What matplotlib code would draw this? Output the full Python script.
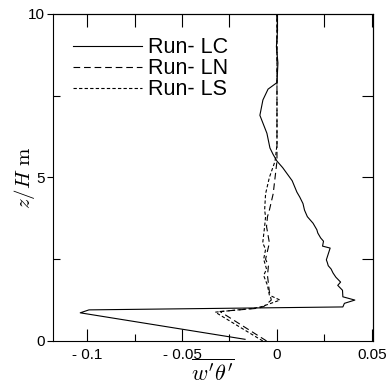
import numpy as np
import matplotlib
matplotlib.use("Agg")
import matplotlib.pyplot as plt
from matplotlib import ticker

plt.rcParams["font.family"] = ["Liberation Sans", "DejaVu Sans"]
plt.rcParams["mathtext.fontset"] = "cm"

# Run-LC (solid)
lc_x = [-0.0168, -0.1036, -0.099, 0.0347, 0.0355, 0.041, 0.0347, 0.0345, 0.032, 0.0335,
        0.031, 0.0295, 0.0285, 0.027, 0.0265, 0.026, 0.028, 0.024, 0.0245, 0.023, 0.0215,
        0.021, 0.019, 0.0175, 0.016, 0.0145, 0.0137, 0.012, 0.0105, 0.008, 0.003, 0.0,
        -0.002, -0.0037, -0.0053, -0.009, -0.0074, -0.0047, 0.0, 0.0005, -0.0003, 0.0003, 0.0]
lc_z = [0.05, 0.86, 0.95, 1.04, 1.15, 1.25, 1.35, 1.55, 1.7, 1.8,
        1.95, 2.08, 2.2, 2.3, 2.4, 2.48, 2.84, 2.9, 3.05, 3.15, 3.3,
        3.4, 3.6, 3.7, 3.8, 4.0, 4.2, 4.4, 4.55, 4.9, 5.3, 5.5,
        5.7, 5.9, 6.35, 6.9, 7.37, 7.7, 7.9, 8.5, 9.0, 9.5, 10.0]

# Run-LN (long dashes)
ln_x = [-0.0055, -0.030, -0.010, -0.007, -0.003, -0.004, -0.005, -0.0045, -0.006,
        -0.004, -0.0055, -0.005, -0.004, -0.002, -0.001, 0.0, 0.0, 0.0]
ln_z = [0.0, 0.9, 1.0, 1.05, 1.25, 1.5, 2.0, 2.3, 2.5,
        3.0, 3.5, 3.8, 4.0, 4.5, 5.0, 5.5, 8.0, 10.0]

# Run-LS (short dashes)
ls_x = [-0.0075, -0.0325, -0.012, -0.008, 0.0016, -0.004, -0.005, -0.007, -0.0055,
        -0.007, -0.006, -0.0075, -0.0065, -0.006, -0.0065, -0.006, -0.004, -0.001,
        0.0, 0.0]
ls_z = [0.0, 0.88, 1.0, 1.05, 1.25, 1.4, 1.7, 2.0, 2.2,
        2.5, 2.8, 3.0, 3.5, 3.8, 4.0, 4.5, 5.0, 5.5,
        6.0, 10.0]

xtick_vals = [-0.1, -0.05, 0.0, 0.05]
xtick_labels = ["- 0.1", "- 0.05", "0", "0.05"]
ytick_vals = [0, 5, 10]
ytick_labels = ["0", "5", "10"]

fig = plt.figure(figsize=(3.86, 3.87), dpi=100)
ax = fig.add_axes([0.137, 0.119, 0.829, 0.845])

ax.plot(lc_x, lc_z, color="black", linewidth=0.8, label="Run- LC")
ax.plot(ln_x, ln_z, color="black", linewidth=0.8, dashes=(6, 3.5), label="Run- LN")
ax.plot(ls_x, ls_z, color="black", linewidth=0.8, dashes=(3, 2), label="Run- LS")

ax.set_xlim(-0.118, 0.0505)
ax.set_ylim(0, 10)

ax.set_xticks(xtick_vals)
ax.set_xticklabels(xtick_labels)
ax.xaxis.set_minor_locator(ticker.MultipleLocator(0.025))
ax.set_yticks(ytick_vals)
ax.set_yticklabels(ytick_labels)
ax.yaxis.set_minor_locator(ticker.MultipleLocator(2.5))

ax.tick_params(axis="x", which="major", direction="in", length=9, width=0.8, labelsize=11, pad=5)
ax.tick_params(axis="x", which="minor", direction="in", length=5, width=0.8)
ax.tick_params(axis="y", which="major", direction="out", length=4, width=0.8, labelsize=11, pad=2)
ax.tick_params(axis="y", which="minor", direction="in", length=5, width=0.8)

top = ax.secondary_xaxis("top")
top.set_xticks(np.arange(-0.1, 0.051, 0.025))
top.tick_params(direction="in", length=9, width=0.8, labeltop=False)
right = ax.secondary_yaxis("right")
right.set_yticks([2.5, 5, 7.5])
right.tick_params(direction="in", length=8, width=0.8, labelright=False)

for sp in ax.spines.values():
    sp.set_linewidth(0.8)

ax.set_xlabel(r"$\overline{w'\theta'}$", fontsize=16, labelpad=-2)
ax.set_ylabel(r"$z/H\ \mathrm{m}$", fontsize=15)
ax.yaxis.set_label_coords(-0.05, 0.5)

ax.legend(loc="upper left", bbox_to_anchor=(0.035, 0.955), frameon=False, fontsize=15.5,
          handlelength=3.2, handletextpad=0.3, labelspacing=0.0, borderaxespad=0)

fig.savefig("out.png", dpi=100)
